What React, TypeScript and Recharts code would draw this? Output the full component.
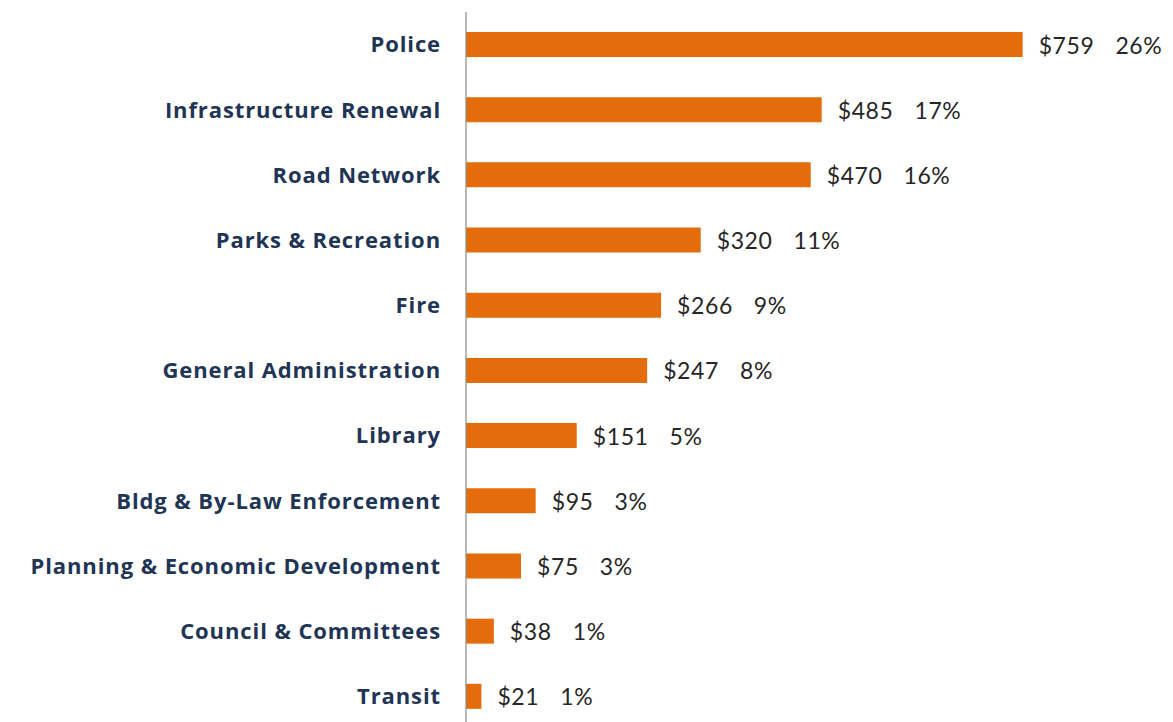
import { BarChart, Bar, XAxis, YAxis, LabelList } from 'recharts'

const categories = [
  'Police',
  'Infrastructure Renewal',
  'Road Network',
  'Parks & Recreation',
  'Fire',
  'General Administration',
  'Library',
  'Bldg & By-Law Enforcement',
  'Planning & Economic Development',
  'Council & Committees',
  'Transit',
]
const amounts = [759, 485, 470, 320, 266, 247, 151, 95, 75, 38, 21]
const shares = [26, 17, 16, 11, 9, 8, 5, 3, 3, 1, 1]

const data = categories.map((name, i) => ({ name, amount: amounts[i], share: shares[i] }))

const ORANGE = '#E46C0A'
const NAVY = '#1F3556'

const ValueLabel = (props: any) => {
  const { x, y, width, height, index } = props
  return (
    <text
      x={x + width + 16}
      y={y + height / 2}
      dominantBaseline="central"
      fill="#262626"
      fontSize={23}
      letterSpacing={0.6}
      fontFamily="Lato, 'Open Sans', sans-serif"
    >
      <tspan>${amounts[index]}</tspan>
      <tspan dx={21}>{shares[index]}%</tspan>
    </text>
  )
}

export default function App() {
  return (
    <div style={{ position: 'absolute', left: 0, top: 0, background: '#fff' }}>
      <BarChart
        width={1173}
        height={740}
        data={data}
        layout="vertical"
        margin={{ top: 12, right: 0, bottom: 11, left: 0 }}
      >
        <XAxis type="number" domain={[0, 964]} hide />
        <YAxis
          type="category"
          dataKey="name"
          width={466}
          tickLine={false}
          tickMargin={19}
          axisLine={{ stroke: '#8c8c8c', strokeWidth: 1.2 }}
          tick={{ fill: NAVY, fontSize: 22, fontWeight: 700, letterSpacing: 0.9, fontFamily: "'Open Sans', Lato, sans-serif" }}
          interval={0}
        />
        <Bar dataKey="amount" fill={ORANGE} barSize={25} isAnimationActive={false}>
          <LabelList dataKey="amount" content={<ValueLabel />} />
        </Bar>
      </BarChart>
    </div>
  )
}
